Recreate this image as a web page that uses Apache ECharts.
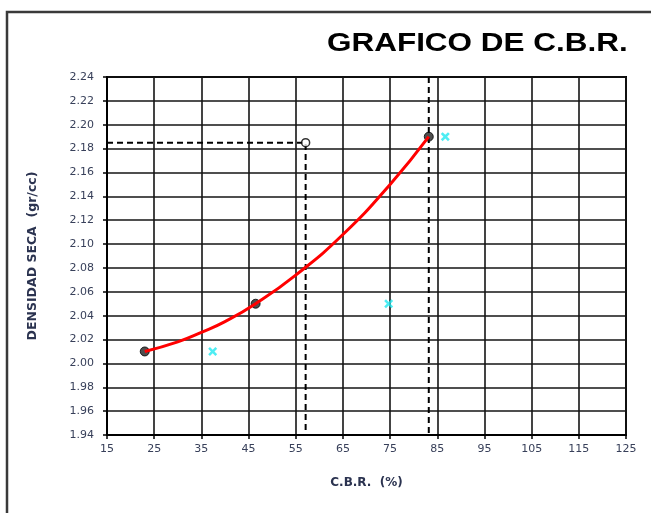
<!DOCTYPE html>
<html>
<head>
<meta charset="utf-8">
<script src="https://cdn.jsdelivr.net/npm/echarts@6/dist/echarts.min.js"></script>
<style>html,body{margin:0;padding:0;background:#fff;}#chart{width:651px;height:513px;}</style>
</head>
<body>
<div id="chart"></div>
<script>
// ---- data ----
const X_START = 15;                 // first x tick label
const xMin = 15, xMax = 125, xStep = 10;
const yMin = 1.94, yMax = 2.24, yStep = 0.02;

const testCbr  = [23.0, 46.5, 83.2];          // black points
const testDens = [2.010, 2.050, 2.190];

const curveCbr  = [23.0, 30, 35, 40, 46.5, 55, 65, 75, 83.2];   // red trend curve
const curveDens = [2.010, 2.018, 2.026, 2.035, 2.050, 2.074, 2.108, 2.150, 2.190];

const crossCbr  = [37.4, 74.7, 86.7];         // cyan crosses
const crossDens = [2.010, 2.050, 2.190];

const designCbr = [57.1];                     // open circle
const designDens = [2.185];
const maxCbrLine = [83.2];

const titleText = 'GRAFICO DE C.B.R.';
const xName = 'C.B.R.  (%)';
const yName = 'DENSIDAD SECA  (gr/cc)';

// x axis is drawn shifted so ticks start at 15
const sx = v => v - X_START;
const pairs = (xs, ys) => xs.map((x, i) => [sx(x), ys[i]]);

const chart = echarts.init(document.getElementById('chart'), null, {renderer: 'canvas'});
const lblFont = 'DejaVu Sans';
const gridColor = '#151515';
const crossPath = 'path://M0,2L2,0L5,3L8,0L10,2L7,5L10,8L8,10L5,7L2,10L0,8L3,5Z';

chart.setOption({
  animation: false,
  backgroundColor: '#fff',
  graphic: [
    {type: 'rect', z: -10, shape: {x: 7, y: 12, width: 700, height: 600},
     style: {fill: 'none', stroke: '#3a3a3a', lineWidth: 2.5}},
    {type: 'text', left: 327, top: 31, scaleX: 1.21,
     style: {text: titleText, font: 'bold 26px "Liberation Sans"', fill: '#000'}}
  ],
  grid: {left: 107, right: 25, top: 77, bottom: 78, show: true, borderColor: '#000', borderWidth: 2},
  xAxis: {
    type: 'value', min: sx(xMin), max: sx(xMax), interval: xStep,
    name: xName, nameLocation: 'middle', nameGap: 42,
    nameTextStyle: {fontFamily: lblFont, fontWeight: 'bold', fontSize: 12, color: '#2b3350'},
    axisLine: {show: true, onZero: false, lineStyle: {color: '#000', width: 2}},
    axisTick: {show: true, length: 4, lineStyle: {color: '#000', width: 1.5}},
    axisLabel: {margin: 9, fontFamily: lblFont, fontSize: 11, color: '#38405a',
                formatter: v => String(Math.round(v + X_START))},
    splitLine: {show: true, lineStyle: {color: gridColor, width: 1.6}}
  },
  yAxis: {
    type: 'value', min: yMin, max: yMax, interval: yStep,
    name: yName, nameLocation: 'middle', nameGap: 68, nameRotate: 90,
    nameTextStyle: {fontFamily: lblFont, fontWeight: 'bold', fontSize: 12.5, color: '#2b3350'},
    axisLine: {show: true, lineStyle: {color: '#000', width: 2}},
    axisTick: {show: true, length: 4, lineStyle: {color: '#000', width: 1.5}},
    axisLabel: {margin: 13, fontFamily: lblFont, fontSize: 11, color: '#38405a',
                formatter: v => v.toFixed(2)},
    splitLine: {show: true, lineStyle: {color: gridColor, width: 1.6}}
  },
  series: [
    {type: 'line', name: 'guideDesign', silent: true, symbol: 'none', z: 3,
     data: [[sx(xMin), designDens[0]], [sx(designCbr[0]), designDens[0]], [sx(designCbr[0]), yMin]],
     lineStyle: {color: '#000', width: 2, type: [6, 4]}},
    {type: 'line', name: 'guideMax', silent: true, symbol: 'none', z: 3,
     data: [[sx(maxCbrLine[0]), yMax], [sx(maxCbrLine[0]), yMin]],
     lineStyle: {color: '#000', width: 2, type: [6, 4]}},
    {type: 'scatter', name: 'tests', symbol: 'circle', symbolSize: 9, z: 4,
     data: pairs(testCbr, testDens),
     itemStyle: {color: '#222', borderColor: '#000', borderWidth: 1}},
    {type: 'line', name: 'curve', smooth: true, symbol: 'none', z: 5,
     data: pairs(curveCbr, curveDens),
     lineStyle: {color: '#ff0000', width: 3}},
    {type: 'scatter', name: 'design', symbol: 'circle', symbolSize: 8, z: 6,
     data: pairs(designCbr, designDens),
     itemStyle: {color: '#fff', borderColor: '#000', borderWidth: 1.5}},
    {type: 'scatter', name: 'cross', symbol: crossPath, symbolSize: 9, z: 6,
     data: pairs(crossCbr, crossDens),
     itemStyle: {color: '#22e8f0'}}
  ]
});
</script>
</body>
</html>
